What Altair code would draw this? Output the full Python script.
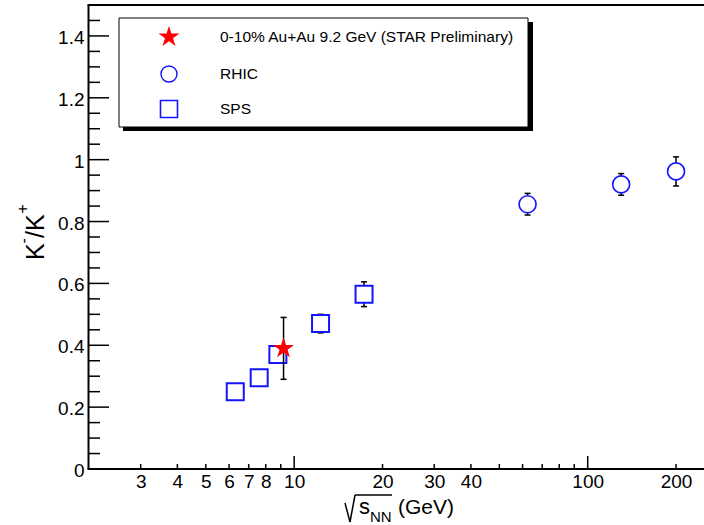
import math

import altair as alt
import pandas as pd

# K-/K+ ratio versus collision energy
sps_energy = [6.3, 7.6, 8.8, 12.3, 17.3]
sps_ratio = [0.25, 0.295, 0.37, 0.47, 0.565]
sps_err = [0.01, 0.01, 0.015, 0.03, 0.04]

rhic_energy = [62.4, 130.0, 200.0]
rhic_ratio = [0.856, 0.92, 0.962]
rhic_err = [0.035, 0.035, 0.047]

star_energy = [9.2]
star_ratio = [0.39]
star_err = [0.10]

legend_labels = ["0-10% Au+Au 9.2 GeV (STAR Preliminary)", "RHIC", "SPS"]
y_title_parts = ["K", "-", "/", "K", "+"]
x_title_parts = ["s", "NN", "(GeV)"]

x_label_values = [3, 4, 5, 6, 7, 8, 10, 20, 30, 40, 100, 200]
x_major_ticks = [10, 100]
x_minor_ticks = [3, 4, 5, 6, 7, 8, 9, 20, 30, 40, 50, 60, 70, 80, 90, 200]
y_major_ticks = [0.0, 0.2, 0.4, 0.6, 0.8, 1.0, 1.2, 1.4]
y_minor_ticks = [0.05, 0.1, 0.15, 0.25, 0.3, 0.35, 0.45, 0.5, 0.55, 0.65, 0.7, 0.75,
                 0.85, 0.9, 0.95, 1.05, 1.1, 1.15, 1.25, 1.3, 1.35, 1.45]

W, H = 615, 464
FONT = "Liberation Sans"
BLUE = "#1414ff"


def star_path(inner=0.382):
    """Five-pointed star as an SVG path in the unit symbol box."""
    pts = []
    for k in range(10):
        r = 1.0 if k % 2 == 0 else inner
        a = math.radians(-90 + 36 * k)
        pts.append(f"{r * math.cos(a):.4f},{r * math.sin(a):.4f}")
    return "M" + "L".join(pts) + "Z"


STAR = star_path()
CAP = "M-1,0L1,0"


def frame(energy, ratio, err):
    return pd.DataFrame({
        "energy": energy,
        "ratio": ratio,
        "lo": [r - e for r, e in zip(ratio, err)],
        "hi": [r + e for r, e in zip(ratio, err)],
    })


sps = frame(sps_energy, sps_ratio, sps_err)
rhic = frame(rhic_energy, rhic_ratio, rhic_err)
star = frame(star_energy, star_ratio, star_err)
one = pd.DataFrame({"k": [0]})

xscale = alt.Scale(type="log", domain=[2, 249], nice=False)
yscale = alt.Scale(domain=[0, 1.5], nice=False, zero=False)

# shared axes: labels only (ticks are drawn inward as rules)
XAX = alt.Axis(values=x_label_values, format="~g", ticks=False, tickSize=0, domain=False,
               grid=False, title=None, labelFont=FONT, labelFontSize=19,
               labelColor="black", labelPadding=3.5, labelFlush=False,
               labelOverlap=False, labelBound=False)
YAX = alt.Axis(values=y_major_ticks, format="~g", ticks=False, tickSize=0, domain=False,
               grid=False, title=None, labelFont=FONT, labelFontSize=19,
               labelColor="black", labelPadding=5, labelOffset=1.5, labelFlush=False,
               labelOverlap=False, labelBound=False)


def xq(field):
    return alt.X(f"{field}:Q", scale=xscale, axis=XAX)


def yq(field):
    return alt.Y(f"{field}:Q", scale=yscale, axis=YAX)


def errorbars(df):
    bars = alt.Chart(df).mark_rule(color="black", strokeWidth=1.5).encode(
        x=xq("energy"), y=yq("lo"), y2="hi:Q")
    caps = [
        alt.Chart(df).mark_point(shape=CAP, size=36, filled=False, color="black",
                                 strokeWidth=1.5, opacity=1).encode(
            x=xq("energy"), y=yq(end))
        for end in ("lo", "hi")
    ]
    return [bars] + caps


ytick_major = alt.Chart(pd.DataFrame({"v": y_major_ticks})).mark_rule(
    color="black", strokeWidth=1.5).encode(y=yq("v"), x=alt.value(0), x2=alt.value(20))
ytick_minor = alt.Chart(pd.DataFrame({"v": y_minor_ticks})).mark_rule(
    color="black", strokeWidth=1.5).encode(y=yq("v"), x=alt.value(0), x2=alt.value(11))
xtick_major = alt.Chart(pd.DataFrame({"v": x_major_ticks})).mark_rule(
    color="black", strokeWidth=1.5).encode(x=xq("v"), y=alt.value(H), y2=alt.value(H - 13))
xtick_minor = alt.Chart(pd.DataFrame({"v": x_minor_ticks})).mark_rule(
    color="black", strokeWidth=1.5).encode(x=xq("v"), y=alt.value(H), y2=alt.value(H - 5))

# frame lines (left, bottom, top)
frame_left = alt.Chart(one).mark_rule(color="black", strokeWidth=2).encode(
    x=alt.value(-0.5), y=alt.value(0), y2=alt.value(H))
frame_bottom = alt.Chart(one).mark_rule(color="black", strokeWidth=2).encode(
    x=alt.value(-1.5), x2=alt.value(W), y=alt.value(H))
frame_top = alt.Chart(one).mark_rule(color="black", strokeWidth=2).encode(
    x=alt.value(-1.5), x2=alt.value(W), y=alt.value(0))

# data markers
sps_pts = alt.Chart(sps).mark_point(shape="square", size=289, filled=False, fill="white",
                                    fillOpacity=1, stroke=BLUE, strokeWidth=2,
                                    opacity=1).encode(x=xq("energy"), y=yq("ratio"))
rhic_pts = alt.Chart(rhic).mark_point(shape="circle", size=289, filled=False, fill="white",
                                      fillOpacity=1, stroke=BLUE, strokeWidth=1.6,
                                      opacity=1).encode(x=xq("energy"), y=yq("ratio"))
star_pts = alt.Chart(star).mark_point(shape=STAR, size=484, filled=True, color="red",
                                      opacity=1).encode(x=xq("energy"), y=yq("ratio"))

# legend box with drop shadow
leg_shadow = alt.Chart(one).mark_rect(color="black").encode(
    x=alt.value(34), x2=alt.value(444), y=alt.value(17), y2=alt.value(126))
leg_box = alt.Chart(one).mark_rect(fill="white", stroke="black", strokeWidth=1).encode(
    x=alt.value(30), x2=alt.value(439), y=alt.value(13), y2=alt.value(122))
leg_star = alt.Chart(one).mark_point(shape=STAR, size=484, filled=True, color="red",
                                     opacity=1).encode(x=alt.value(80), y=alt.value(32))
leg_circle = alt.Chart(one).mark_point(shape="circle", size=256, filled=False,
                                       stroke=BLUE, strokeWidth=1.4, opacity=1).encode(
    x=alt.value(80), y=alt.value(69))
leg_square = alt.Chart(one).mark_point(shape="square", size=289, filled=False,
                                       stroke=BLUE, strokeWidth=1.6, opacity=1).encode(
    x=alt.value(80), y=alt.value(104))
leg_texts = [
    alt.Chart(one).mark_text(align="left", baseline="middle", font=FONT, fontSize=15.5,
                             color="black").encode(
        x=alt.value(131), y=alt.value(yy), text=alt.value(label))
    for label, yy in zip(legend_labels, [32, 69, 104])
]

# y title, read bottom to top: K, superscript minus, slash, K, superscript plus
ytitle = [
    alt.Chart(one).mark_text(angle=270, align="left", baseline="alphabetic", font=FONT,
                             fontSize=fs, color="black").encode(
        x=alt.value(bx), y=alt.value(start), text=alt.value(part))
    for part, fs, bx, start in zip(y_title_parts, [25, 16, 25, 25, 16],
                                   [-45, -60, -45, -45, -61],
                                   [255, 238.5, 233, 226, 208.5])
]

# x title: radical sign, s, subscript NN, unit
root_sign = [
    alt.Chart(one).mark_rule(color="black", strokeWidth=1.5).encode(
        x=alt.value(a), y=alt.value(b), x2=alt.value(c), y2=alt.value(d))
    for a, b, c, d in [(256, 498, 261, 517), (261, 517, 266, 490), (266, 490, 303, 490)]
]
xt_s = alt.Chart(one).mark_text(align="left", baseline="alphabetic", font=FONT,
                                fontSize=22, color="black").encode(
    x=alt.value(270), y=alt.value(509), text=alt.value(x_title_parts[0]))
xt_nn = alt.Chart(one).mark_text(align="left", baseline="alphabetic", font=FONT,
                                 fontSize=15, color="black").encode(
    x=alt.value(281), y=alt.value(517), text=alt.value(x_title_parts[1]))
xt_gev = alt.Chart(one).mark_text(align="left", baseline="alphabetic", font=FONT,
                                  fontSize=21, color="black").encode(
    x=alt.value(309), y=alt.value(509), text=alt.value(x_title_parts[2]))

layers = [ytick_major, ytick_minor, xtick_major, xtick_minor]
layers += errorbars(sps) + errorbars(rhic)
layers += [sps_pts, rhic_pts]
layers += errorbars(star) + [star_pts]
layers += [frame_left, frame_bottom, frame_top]
layers += [leg_shadow, leg_box, leg_star, leg_circle, leg_square] + leg_texts
layers += ytitle + root_sign + [xt_s, xt_nn, xt_gev]

chart = alt.layer(*layers).properties(
    width=W, height=H,
    autosize=alt.AutoSizeParams(type="none"),
    padding={"left": 89, "top": 5, "right": 0, "bottom": 56},
    background="white",
).configure_view(stroke=None)

chart.save("out.html", embed_options={"renderer": "svg", "actions": False})
